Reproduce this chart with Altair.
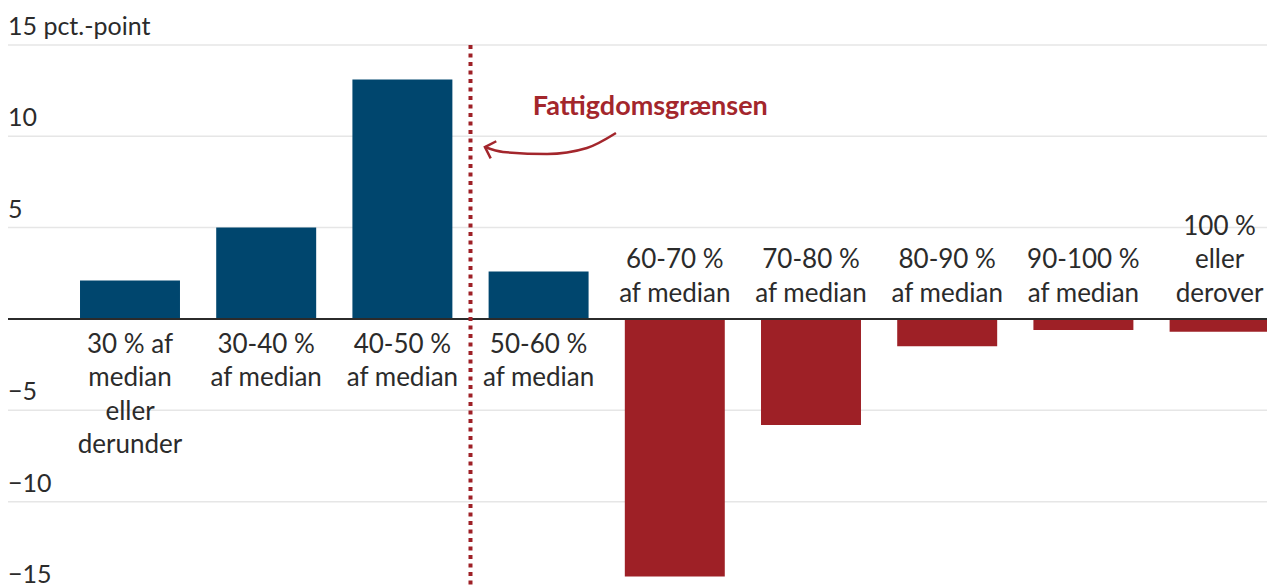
import altair as alt
import pandas as pd

# ---- data ----
categories = [
    "30 % af\nmedian\neller\nderunder",
    "30-40 %\naf median",
    "40-50 %\naf median",
    "50-60 %\naf median",
    "60-70 %\naf median",
    "70-80 %\naf median",
    "80-90 %\naf median",
    "90-100 %\naf median",
    "100 %\neller\nderover",
]
values = [2.1, 5.0, 13.1, 2.6, -14.1, -5.8, -1.5, -0.6, -0.7]

y_ticks = [15, 10, 5, -5, -10, -15]
y_tick_labels = ["15 pct.-point", "10", "5", "\u22125", "\u221210", "\u221215"]

poverty_line_pos = [2.5]
annotation_text = ["Fattigdomsgrænsen"]
annotation_u = [3.82]
annotation_v = [11.17]
arrow_u = [2.606, 2.739, 3.062, 3.355, 3.568]
arrow_v = [9.41, 9.14, 9.03, 9.36, 10.18]

BLUE = "#00466e"
RED = "#9e2026"
RED_TEXT = "#a3262c"
TEXT = "#2b2b2b"
FONT = "Lato"
LABEL_SIZE = 26
LINE_H = 33.5

bars_df = pd.DataFrame({"i": list(range(len(categories))), "cat": categories, "value": values})
ticks_df = pd.DataFrame({"v": y_ticks, "label": y_tick_labels})
zero_df = pd.DataFrame({"v": [0]})
pov_df = pd.DataFrame({"u": poverty_line_pos, "top": [15], "bottom": [-16]})
ann_df = pd.DataFrame({"u": annotation_u, "v": annotation_v, "t": annotation_text})
arrow_df = pd.DataFrame({"u": arrow_u, "v": arrow_v})
tip_df = pd.DataFrame({"u": arrow_u[:1], "v": arrow_v[:1]})

xscale = alt.Scale(domain=[-0.8957, 8.348], nice=False, zero=False)
yscale = alt.Scale(domain=[-14.616, 17.02], nice=False, zero=False)

grid = alt.Chart(ticks_df).mark_rule(color="#e6e6e6", strokeWidth=1.5).encode(
    y=alt.Y("v:Q", scale=yscale, axis=None)
)

bars = alt.Chart(bars_df).transform_calculate(
    x0="datum.i - 0.367", x1="datum.i + 0.367", base="0"
).mark_rect().encode(
    x=alt.X("x0:Q", scale=xscale, axis=None),
    x2="x1:Q",
    y=alt.Y("value:Q", scale=yscale, axis=None),
    y2="base:Q",
    color=alt.condition(alt.datum.value > 0, alt.value(BLUE), alt.value(RED)),
)

zero = alt.Chart(zero_df).mark_rule(color=TEXT, strokeWidth=2).encode(
    y=alt.Y("v:Q", scale=yscale, axis=None)
)


def label_layer(filter_expr, dy):
    return alt.Chart(bars_df).transform_calculate(
        base="0", nlines="length(split(datum.cat, '\\n'))"
    ).transform_filter(filter_expr).mark_text(
        lineBreak="\n", baseline="alphabetic", align="center", dy=dy,
        fontSize=LABEL_SIZE, font=FONT, color=TEXT, lineHeight=LINE_H,
    ).encode(
        x=alt.X("i:Q", scale=xscale, axis=None),
        y=alt.Y("base:Q", scale=yscale, axis=None),
        text="cat:N",
    )


labels_pos = label_layer("datum.value > 0", 34)
labels_neg2 = label_layer("datum.value <= 0 && datum.nlines == 2", -17 - LINE_H)
labels_neg3 = label_layer("datum.value <= 0 && datum.nlines == 3", -17 - 2 * LINE_H)

ytext = alt.Chart(ticks_df).mark_text(
    align="left", baseline="alphabetic", dy=-10, fontSize=25, font=FONT, color=TEXT
).encode(
    x=alt.value(0),
    y=alt.Y("v:Q", scale=yscale, axis=None),
    text="label:N",
)

pov = alt.Chart(pov_df).mark_rule(color=RED, strokeWidth=4, strokeDash=[4, 4.5]).encode(
    x=alt.X("u:Q", scale=xscale, axis=None),
    y=alt.Y("top:Q", scale=yscale, axis=None),
    y2="bottom:Q",
)

ann = alt.Chart(ann_df).mark_text(
    align="center", baseline="alphabetic", fontSize=27, fontWeight="bold", font=FONT, color=RED_TEXT
).encode(
    x=alt.X("u:Q", scale=xscale, axis=None),
    y=alt.Y("v:Q", scale=yscale, axis=None),
    text="t:N",
)

arrow = alt.Chart(arrow_df).mark_line(color=RED_TEXT, strokeWidth=2.5, interpolate="monotone").encode(
    x=alt.X("u:Q", scale=xscale, axis=None),
    y=alt.Y("v:Q", scale=yscale, axis=None),
)

tip = alt.Chart(tip_df).mark_point(
    shape="M1,-1L0,0L1,1", filled=False, strokeWidth=2.5, size=324, angle=18,
    color=RED_TEXT, opacity=1,
).encode(
    x=alt.X("u:Q", scale=xscale, axis=None),
    y=alt.Y("v:Q", scale=yscale, axis=None),
)

chart = alt.layer(
    grid, bars, zero, labels_pos, labels_neg2, labels_neg3, ytext, pov, ann, arrow, tip
).properties(
    width=1259, height=578,
    autosize=alt.AutoSizeParams(type="none"),
    padding=0,
    background="white",
).configure_view(stroke=None)

chart.save("out.html", embed_options={"renderer": "svg", "actions": False})
